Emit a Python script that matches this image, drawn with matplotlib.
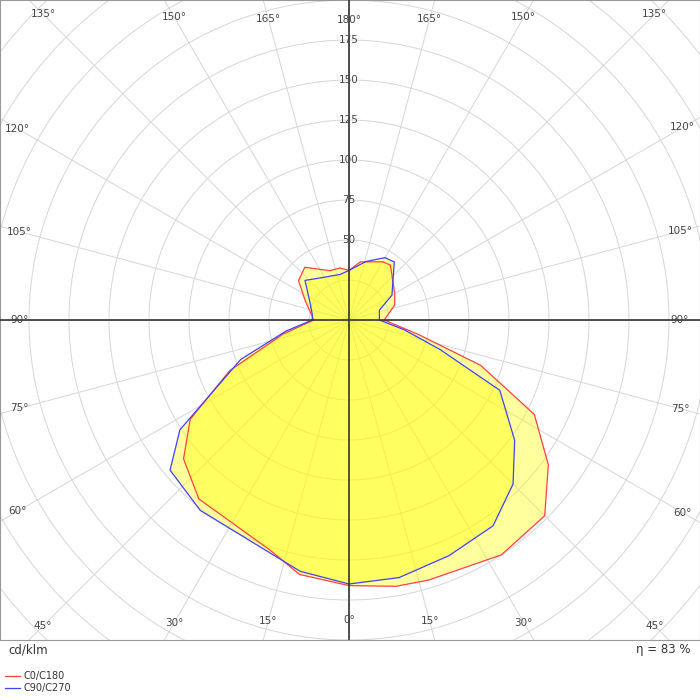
import numpy as np
import matplotlib
matplotlib.use("Agg")
import matplotlib.pyplot as plt

# C0 (right) / C180 (left)
red_right_g = [0,10,17,33,45,54,63,71,78,90,108,120,143,150,169,180]
red_right_r = [166,169,170,175,173,154,130,87,45,22,30,33,43,42,37,31]
red_left_g = [0,11,19,40,50,58,67,78,90,114,128,140,159,170,180]
red_left_r = [166,162,152,146,135,117,81,42,22,30,40,43,33,33,31]
# C90 (right) / C270 (left)
blue_right_g = [0,11,23,35,45,54,65,72,80,90,108,120,142,150,164,180]
blue_right_r = [165,164,160,157,145,128,104,60,35,19,20,31,46,45,38,31]
blue_left_g = [0,11,20,38,50,57,70,80,90,97,115,132,145,169,180]
blue_left_r = [165,160,153,151,146,126,72,40,23,23,27,37,32,29,31]
radial_labels = [50,75,100,125,150,175]
eta_text = "η = 83 %"

fig = plt.figure(figsize=(7,7), dpi=100)
ax = fig.add_axes([0, 60/700, 1, 640/700])
S = 1.6
ax.set_xlim(-349/S, 351/S); ax.set_ylim(-200, 200)
ax.set_xticks([]); ax.set_yticks([])
for s in ax.spines.values():
    s.set_color('#999999'); s.set_linewidth(0.8)

t = np.linspace(0, 2*np.pi, 400)
for rr in np.arange(25, 320, 25):
    ax.plot(rr*np.cos(t), rr*np.sin(t), color='#d6d6d6', lw=0.7, zorder=1)
for g in range(0, 360, 15):
    a = np.radians(g)
    ax.plot([0, 400*np.sin(a)], [0, -400*np.cos(a)], color='#d6d6d6', lw=0.7, zorder=1)

def poly(rg, rr, lg, lr):
    rg, rr, lg, lr = map(np.asarray, (rg, rr, lg, lr))
    a1 = np.radians(rg); a2 = np.radians(lg[::-1])
    x = np.concatenate([rr*np.sin(a1), -lr[::-1]*np.sin(a2)])
    y = np.concatenate([-rr*np.cos(a1), -lr[::-1]*np.cos(a2)])
    return np.append(x, x[0]), np.append(y, y[0])

xr, yr = poly(red_right_g, red_right_r, red_left_g, red_left_r)
xb, yb = poly(blue_right_g, blue_right_r, blue_left_g, blue_left_r)
ax.fill(xr, yr, color='#ffff00', alpha=0.38, lw=0, zorder=2)
ax.fill(xb, yb, color='#ffff00', alpha=0.38, lw=0, zorder=2)
ax.plot(xr, yr, color='#ff4040', lw=0.9, zorder=3)
ax.plot(xb, yb, color='#4040ff', lw=0.9, zorder=3)

ax.axhline(0, color='#333333', lw=1.2, zorder=4)
ax.axvline(0, color='#333333', lw=1.2, zorder=4)

for v in radial_labels:
    ax.text(0, v, str(v), ha='center', va='center', fontsize=7.5, color='#444444', zorder=5)

xmin, xmax = -349/S, 351/S
for side in (1, -1):
    for g in range(0, 181, 15):
        if side == -1 and g in (0, 180):
            continue
        a = np.radians(g)
        dx, dy = side*np.sin(a), -np.cos(a)
        ts = []
        if abs(dx) > 1e-9: ts.append((xmax if dx > 0 else xmin)/dx)
        if abs(dy) > 1e-9: ts.append(200/abs(dy))
        tt = min(ts) - 12.5
        x, y = dx*tt, dy*tt
        x = min(max(x, xmin+11), xmax-11)
        y = min(max(y, -193), 193)
        ax.text(x, y, f"{g}°", ha='center', va='center', fontsize=7.5, color='#444444', zorder=5)

fig.text(8/700, 1-650/700, "cd/klm", fontsize=8.5, va='center', ha='left', color='#333333')
fig.text(690/700, 1-650/700, eta_text, fontsize=8.5, va='center', ha='right', color='#333333')
for yy, c, lab in [(676, '#ff4040', 'C0/C180'), (688, '#4040ff', 'C90/C270')]:
    fig.add_artist(plt.Line2D([5/700, 20/700], [1-yy/700]*2, color=c, lw=0.9))
    fig.text(24/700, 1-yy/700, lab, fontsize=7, va='center', ha='left', color='#333333')

fig.savefig("out.png", dpi=100)
